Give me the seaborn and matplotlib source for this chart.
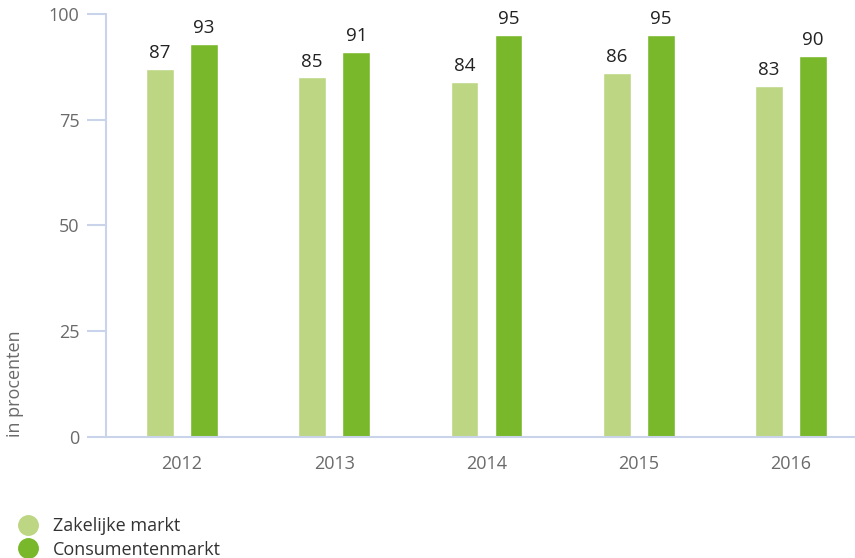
import matplotlib
matplotlib.use("Agg")
import matplotlib.pyplot as plt
import seaborn as sns
import pandas as pd
from matplotlib.lines import Line2D

years = ["2012", "2013", "2014", "2015", "2016"]
zakelijk = [87, 85, 84, 86, 83]
consument = [93, 91, 95, 95, 90]
series_names = ["Zakelijke markt", "Consumentenmarkt"]
colors = ["#bcd683", "#78b82a"]
yticks = [0, 25, 50, 75, 100]

df = pd.DataFrame({
    "jaar": years * 2,
    "waarde": zakelijk + consument,
    "reeks": [series_names[0]] * len(years) + [series_names[1]] * len(years),
})

sns.set_theme(style="white")
plt.rcParams["font.family"] = ["Open Sans", "DejaVu Sans"]

fig = plt.figure(figsize=(8.55, 5.58), dpi=100)
ax = fig.add_axes([106 / 855, 1 - 437 / 558, 1 - 106 / 855, (437 - 14) / 558])

sns.barplot(data=df, x="jaar", y="waarde", hue="reeks", palette=colors,
            width=0.58, gap=0.37, ax=ax, legend=False, saturation=1, errorbar=None)

spine_c = "#c9d4ea"
ax.set_ylim(0, 100)
ax.set_xlim(-0.5, (855 - 107) / 152 - 0.5)
ax.set_yticks(yticks)
ax.set_yticklabels([str(v) for v in yticks])
ax.tick_params(axis="y", length=14, width=1.5, color=spine_c, pad=5,
               labelsize=13, labelcolor="#6a6a6a", left=True)
ax.tick_params(axis="x", length=0, pad=13, labelsize=13, labelcolor="#6a6a6a")
for s in ["top", "right"]:
    ax.spines[s].set_visible(False)
for s in ["left", "bottom"]:
    ax.spines[s].set_color(spine_c)
    ax.spines[s].set_linewidth(1.5)
ax.set_xlabel("")
ax.set_ylabel("")

for cont in ax.containers:
    ax.bar_label(cont, fmt="%d", padding=5, fontsize=13.5, color="#222222")

fig.text(15 / 855, 1 - 437 / 558, "in procenten", rotation=90, ha="center",
         va="bottom", fontsize=13, color="#6a6a6a")

handles = [Line2D([0], [0], marker="o", linestyle="", markersize=14,
                  markerfacecolor=c, markeredgecolor=c) for c in colors]
fig.legend(handles, series_names, loc="upper left", bbox_to_anchor=(0.01, 1 - 508 / 558),
           frameon=False, fontsize=13, handletextpad=0.75, labelspacing=0.32,
           borderpad=0, handlelength=1.2, labelcolor="#333333")

fig.savefig("out.png", dpi=100)
